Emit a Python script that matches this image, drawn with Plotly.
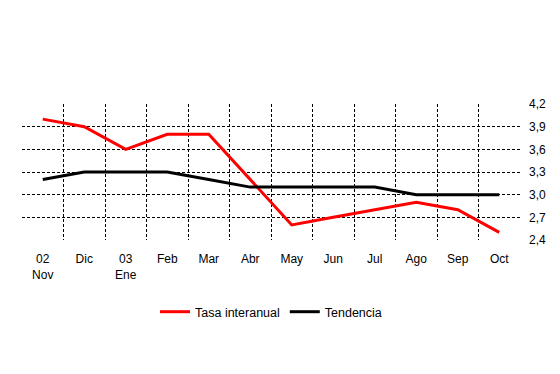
import plotly.graph_objects as go

categories = ["02<br>Nov", "Dic", "03<br>Ene", "Feb", "Mar", "Abr", "May", "Jun", "Jul", "Ago", "Sep", "Oct"]
tasa_interanual = [4.0, 3.9, 3.6, 3.8, 3.8, 3.2, 2.6, 2.7, 2.8, 2.9, 2.8, 2.5]
tendencia = [3.2, 3.3, 3.3, 3.3, 3.2, 3.1, 3.1, 3.1, 3.1, 3.0, 3.0, 3.0]
y_ticks = [2.4, 2.7, 3.0, 3.3, 3.6, 3.9, 4.2]
y_ticklabels = ["2,4", "2,7", "3,0", "3,3", "3,6", "3,9", "4,2"]

xpos = list(range(len(categories)))

fig = go.Figure()
fig.add_trace(go.Scatter(x=xpos, y=tasa_interanual, mode="lines", name="Tasa interanual",
                         line=dict(color="#ff0000", width=3)))
fig.add_trace(go.Scatter(x=xpos, y=tendencia, mode="lines", name="Tendencia",
                         line=dict(color="#000000", width=3)))

fig.update_layout(
    width=552, height=366,
    margin=dict(l=14, r=40, t=96, b=134),
    paper_bgcolor="white", plot_bgcolor="white",
    font=dict(family="Liberation Sans, Arial, sans-serif", size=12, color="black"),
    showlegend=True,
    legend=dict(orientation="h", x=0.5, xanchor="center", y=-0.53, yanchor="middle",
                font=dict(size=12.5), itemwidth=30),
    xaxis=dict(
        range=[-0.5, len(categories) - 0.5],
        tickmode="array", tickvals=xpos, ticktext=categories,
        showgrid=False, zeroline=False, showline=False, ticks="",
        ticklabelstandoff=10,
        minor=dict(tickvals=[i + 0.5 for i in range(len(categories) - 1)],
                   showgrid=True, gridcolor="black", gridwidth=1, griddash="3px,2px", ticks=""),
    ),
    yaxis=dict(
        range=[2.4, 4.2], side="right",
        tickmode="array", tickvals=y_ticks, ticktext=y_ticklabels,
        showgrid=False, zeroline=False, showline=False, ticks="",
        ticklabelstandoff=8,
        minor=dict(tickvals=y_ticks[1:-1], showgrid=True, gridcolor="black", gridwidth=1,
                   griddash="3px,2px", ticks=""),
    ),
)

fig.write_html("out.html")
